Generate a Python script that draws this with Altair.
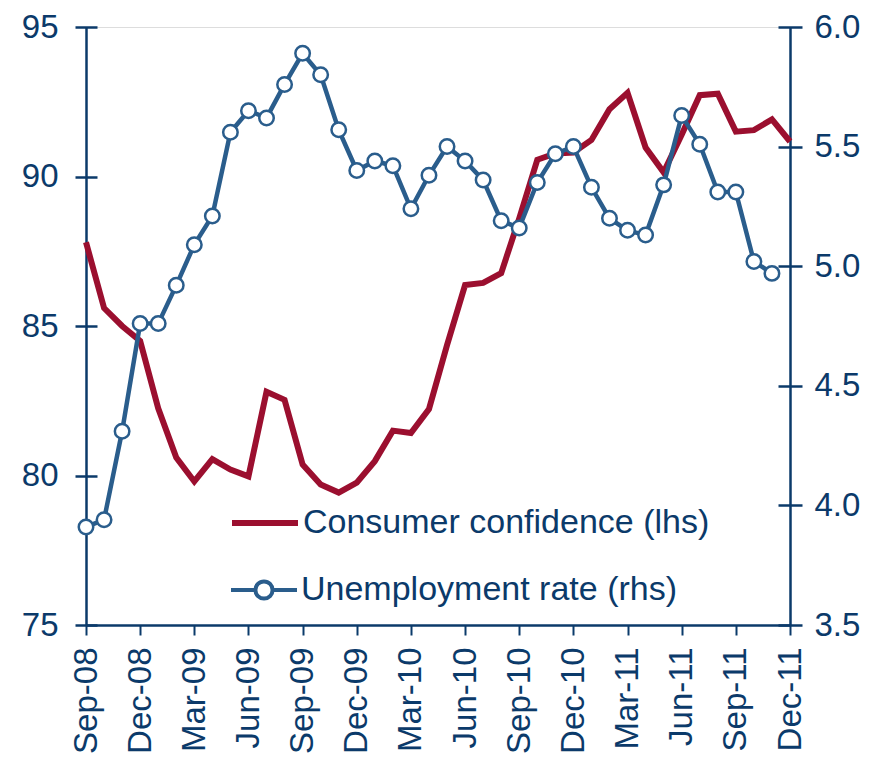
import altair as alt
import pandas as pd

months = [
    "Sep-08", "Oct-08", "Nov-08", "Dec-08", "Jan-09", "Feb-09", "Mar-09", "Apr-09",
    "May-09", "Jun-09", "Jul-09", "Aug-09", "Sep-09", "Oct-09", "Nov-09", "Dec-09",
    "Jan-10", "Feb-10", "Mar-10", "Apr-10", "May-10", "Jun-10", "Jul-10", "Aug-10",
    "Sep-10", "Oct-10", "Nov-10", "Dec-10", "Jan-11", "Feb-11", "Mar-11", "Apr-11",
    "May-11", "Jun-11", "Jul-11", "Aug-11", "Sep-11", "Oct-11", "Nov-11", "Dec-11",
]

consumer_confidence = [
    87.8, 85.6, 85.0, 84.5, 82.25, 80.6, 79.8, 80.55,
    80.2, 79.97, 82.8, 82.53, 80.37, 79.7, 79.43, 79.76,
    80.48, 81.5, 81.42, 82.22, 84.36, 86.37, 86.44, 86.77,
    88.6, 90.56, 90.77, 90.8, 91.22, 92.25, 92.8, 90.97,
    90.14, 91.4, 92.72, 92.77, 91.5, 91.55, 91.91, 91.17,
]

unemployment_rate = [
    3.91, 3.94, 4.31, 4.76, 4.76, 4.92, 5.09, 5.21,
    5.56, 5.65, 5.62, 5.76, 5.89, 5.80, 5.57, 5.40,
    5.44, 5.42, 5.24, 5.38, 5.50, 5.44, 5.36, 5.19,
    5.16, 5.35, 5.47, 5.50, 5.33, 5.20, 5.15, 5.13,
    5.34, 5.63, 5.51, 5.31, 5.31, 5.02, 4.97,
]

x_tick_labels = months[::3]
lhs_ticks = [75, 80, 85, 90, 95]
rhs_ticks = [3.5, 4.0, 4.5, 5.0, 5.5, 6.0]

cc_name = "Consumer confidence (lhs)"
ur_name = "Unemployment rate (rhs)"

df_cc = pd.DataFrame({"month": months, "value": consumer_confidence, "series": cc_name})
df_ur = pd.DataFrame({"month": months[:len(unemployment_rate)],
                      "value": unemployment_rate, "series": ur_name})

NAVY = "#0B3A6A"
RED = "#9B0F2F"
BLUE = "#2A5D8C"
FONT = "Liberation Sans"
FS_Y = 33
FS_X = 33
FS_LEG = 34

lhs_scale = alt.Scale(domain=[75, 95], nice=False, zero=False)
rhs_scale = alt.Scale(domain=[3.5, 6.0], nice=False, zero=False)

x_enc = alt.X(
    "month:O",
    scale=alt.Scale(type="point", domain=months, padding=0),
    axis=alt.Axis(
        values=x_tick_labels, labelAngle=-90, title=None, grid=False,
        domainColor=NAVY, domainWidth=2.5, tickColor=NAVY, tickWidth=2,
        tickSize=10, labelPadding=12, labelFontSize=FS_X, labelColor=NAVY,
        labelFont=FONT,
    ),
)

# main lhs axis: ticks crossing the axis line (offset inside), no domain line
red = alt.Chart(df_cc).mark_line(strokeWidth=6).encode(
    x=x_enc,
    y=alt.Y(
        "value:Q",
        scale=lhs_scale,
        axis=alt.Axis(
            orient="left", values=lhs_ticks, title=None, grid=False,
            domain=False, offset=-11, tickColor=NAVY, tickWidth=2.5,
            tickSize=22, labelPadding=17, labelFontSize=FS_Y, labelColor=NAVY,
            labelFont=FONT,
        ),
    ),
    color=alt.Color(
        "series:N",
        scale=alt.Scale(domain=[cc_name], range=[RED]),
        legend=alt.Legend(
            orient="none", legendX=143, legendY=460, title=None, padding=0,
            symbolType="stroke", symbolSize=4356, symbolStrokeWidth=6,
            labelOffset=2, labelFontSize=FS_LEG, labelColor=NAVY,
            labelFont=FONT, labelLimit=700,
        ),
    ),
)

ur_y = alt.Y(
    "value:Q",
    scale=rhs_scale,
    axis=alt.Axis(
        orient="right", values=rhs_ticks, format=".1f", title=None, grid=False,
        domain=False, offset=-12, tickColor=NAVY, tickWidth=2.5,
        tickSize=24, labelPadding=12, labelFontSize=FS_Y, labelColor=NAVY,
        labelFont=FONT,
    ),
)

legend_path = ("M-1,0H-0.26M0.26,0H1M0.26,0A0.26,0.26,0,1,1,-0.26,0"
               "A0.26,0.26,0,1,1,0.26,0")

ur_stroke = alt.Stroke(
    "series:N",
    scale=alt.Scale(domain=[ur_name], range=[BLUE]),
    legend=alt.Legend(
        orient="none", legendX=143, legendY=528, title=None, padding=0,
        symbolType=legend_path, symbolSize=4356, symbolStrokeWidth=4,
        symbolFillColor="white",
        labelOffset=2, labelFontSize=FS_LEG, labelColor=NAVY, labelFont=FONT,
        labelLimit=700,
    ),
)

blue_line = alt.Chart(df_ur).mark_line(strokeWidth=4.5).encode(
    x=x_enc, y=ur_y, stroke=ur_stroke
)
blue_pts = alt.Chart(df_ur).mark_point(
    shape="circle", filled=False, fill="white", size=210, strokeWidth=2.5,
    opacity=1,
).encode(x=x_enc, y=ur_y, stroke=ur_stroke)

blue = alt.layer(blue_line, blue_pts)

# invisible layers carrying only the vertical axis lines
left_line = alt.Chart(df_cc).mark_line(opacity=0).encode(
    x=x_enc,
    y=alt.Y("value:Q", scale=lhs_scale,
            axis=alt.Axis(orient="left", title=None, grid=False, ticks=False,
                          labels=False, domain=True, domainColor=NAVY,
                          domainWidth=2.5)),
)
right_line = alt.Chart(df_ur).mark_line(opacity=0).encode(
    x=x_enc,
    y=alt.Y("value:Q", scale=rhs_scale,
            axis=alt.Axis(orient="right", title=None, grid=False, ticks=False,
                          labels=False, domain=True, domainColor=NAVY,
                          domainWidth=2.5)),
)

chart = alt.layer(left_line, right_line, red, blue).resolve_scale(
    y="independent", color="independent", stroke="independent"
).properties(
    width=704, height=598,
    autosize=alt.AutoSizeParams(type="none"),
    padding={"left": 78, "top": 19, "right": 90, "bottom": 131},
).configure_view(stroke=None).configure(background="white")

chart.save("out.html", embed_options={"renderer": "svg", "actions": False})
